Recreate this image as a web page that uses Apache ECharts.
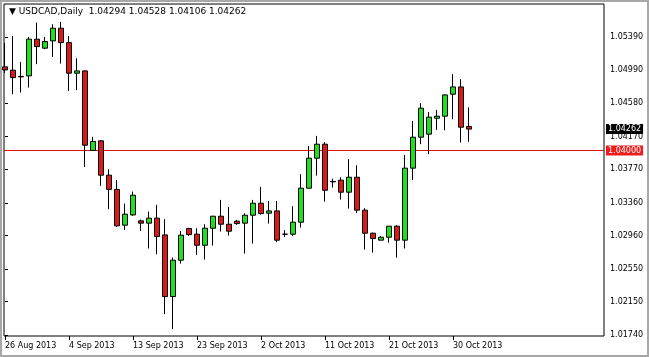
<!DOCTYPE html>
<html><head><meta charset="utf-8">
<script src="https://cdn.jsdelivr.net/npm/echarts@6/dist/echarts.min.js"></script>
<style>html,body{margin:0;padding:0;background:#fff;}#c{width:649px;height:357px;}</style>
</head><body><div id="c"></div>
<script>
const titleText = '\u25BC USDCAD,Daily  1.04294 1.04528 1.04106 1.04262';
const dateLabels = ['26 Aug 2013','4 Sep 2013','13 Sep 2013','23 Sep 2013','2 Oct 2013','11 Oct 2013','21 Oct 2013','30 Oct 2013'];
const dateLabelIdx = [0,8,16,24,32,40,48,56];
const priceTicks = [1.05390,1.04990,1.04580,1.04170,1.03770,1.03360,1.02960,1.02550,1.02150,1.01740];
const opens = [1.05023,1.04983,1.04907,1.04913,1.05362,1.05252,1.05341,1.05496,1.05320,1.04946,
1.04974,1.04001,1.04118,1.03698,1.03524,1.03086,1.03212,1.03139,1.03111,1.03172,
1.02967,1.02213,1.02658,1.03045,1.02976,1.02841,1.03049,1.03196,1.03098,1.03135,
1.03111,1.03208,1.03355,1.03233,1.03261,1.02976,1.02976,1.03123,1.03539,1.03906,
1.04077,1.03622,1.03637,1.03490,1.03673,1.03270,1.02988,1.02903,1.02939,1.03074,
1.02903,1.03784,1.04163,1.04200,1.04395,1.04420,1.04689,1.04778,1.04294];
const closes = [1.04986,1.04892,1.04901,1.05362,1.05271,1.05333,1.05496,1.05320,1.04946,1.04974,
1.04065,1.04111,1.03698,1.03524,1.03078,1.03221,1.03453,1.03111,1.03172,1.02947,
1.02213,1.02658,1.02964,1.02971,1.02841,1.03049,1.03196,1.03098,1.03013,1.03106,
1.03208,1.03355,1.03228,1.03261,1.02903,1.02976,1.03123,1.03539,1.03906,1.04077,
1.03514,1.03616,1.03490,1.03673,1.03270,1.02988,1.02922,1.02939,1.03074,1.02903,
1.03784,1.04163,1.04518,1.04408,1.04420,1.04680,1.04778,1.04285,1.04262];
const highs = [1.05317,1.05402,1.05084,1.05390,1.05565,1.05390,1.05545,1.05574,1.05402,1.05129,
1.04983,1.04167,1.04126,1.03771,1.03637,1.03350,1.03497,1.03155,1.03253,1.03335,
1.03160,1.02690,1.03016,1.03053,1.03049,1.03098,1.03200,1.03396,1.03310,1.03151,
1.03233,1.03396,1.03555,1.03383,1.03383,1.03025,1.03319,1.03710,1.04056,1.04179,
1.04102,1.03656,1.03673,1.03894,1.03820,1.03294,1.02996,1.02952,1.03074,1.03086,
1.03946,1.04362,1.04579,1.04472,1.04497,1.04689,1.04934,1.04872,1.04528];
const lows = [1.04950,1.04689,1.04709,1.04770,1.05056,1.05240,1.05145,1.05063,1.04729,1.04738,
1.03799,1.03995,1.03567,1.03282,1.03065,1.03029,1.03200,1.03016,1.02800,1.02731,
1.01997,1.01814,1.02616,1.02955,1.02723,1.02665,1.02837,1.03008,1.02959,1.03090,
1.02739,1.02861,1.03216,1.03106,1.02878,1.02943,1.02952,1.03057,1.03539,1.03693,
1.03375,1.03546,1.03399,1.03289,1.03233,1.02788,1.02751,1.02903,1.02873,1.02690,
1.02800,1.03637,1.04077,1.03955,1.04252,1.04248,1.04383,1.04097,1.04106];
const levelLine = 1.04000;
const lastPrice = 1.04262;

const FONT = 'DejaVu Sans';
const X_MIN = -0.125, X_MAX = 74.875;
const Y_MIN = 1.017303, Y_MAX = 1.057925;
const candleData = opens.map((o, i) => [i, o, closes[i], lows[i], highs[i]]);
const boxStyle = bg => ({backgroundColor: bg, color: '#fff', fontFamily: FONT, fontSize: 8, lineHeight: 8, padding: [1, 2, 1, 2]});

const chart = echarts.init(document.getElementById('c'), null, {renderer: 'canvas'});
chart.setOption({
  animation: false,
  backgroundColor: '#ffffff',
  title: {
    text: titleText, left: 9, top: 7, padding: 0,
    textStyle: {fontFamily: FONT, fontSize: 9, fontWeight: 'normal', color: '#000'}
  },
  grid: {left: 4, right: 45, top: 4, bottom: 21, show: true, borderColor: '#000', borderWidth: 1, backgroundColor: '#fff'},
  xAxis: {
    type: 'value', min: X_MIN, max: X_MAX,
    splitLine: {show: false}, axisLine: {show: false},
    axisTick: {show: true, length: 4, lineStyle: {color: '#000'}, customValues: dateLabelIdx},
    axisLabel: {
      show: true, customValues: dateLabelIdx, align: 'left', margin: 6,
      fontFamily: FONT, fontSize: 8, color: '#000',
      formatter: v => dateLabels[dateLabelIdx.indexOf(Math.round(v))] || ''
    }
  },
  yAxis: [{
    type: 'value', position: 'right', min: Y_MIN, max: Y_MAX, scale: true,
    splitLine: {show: false}, axisLine: {show: false},
    axisTick: {show: true, length: 3, lineStyle: {color: '#000'}, customValues: priceTicks},
    axisLabel: {
      show: true, customValues: priceTicks, margin: 6,
      fontFamily: FONT, fontSize: 8, color: '#000',
      formatter: v => v.toFixed(5)
    }
  }, {
    type: 'value', position: 'right', min: Y_MIN, max: Y_MAX, scale: true, z: 5,
    splitLine: {show: false}, axisLine: {show: false}, axisTick: {show: false},
    axisLabel: {
      show: true, customValues: [levelLine, lastPrice], margin: 2,
      formatter: v => (Math.abs(v - levelLine) < 1e-7 ? '{r|' : '{b|') + v.toFixed(5) + '}',
      rich: {r: boxStyle('#ee1c1c'), b: boxStyle('#000000')}
    }
  }],
  series: [{
    type: 'line', name: 'levelLine', silent: true, z: 1,
    data: [[X_MIN, levelLine], [X_MAX, levelLine]],
    symbol: 'none', showSymbol: false,
    lineStyle: {color: '#e00c0c', width: 1, type: 'solid'},
    itemStyle: {color: '#e00c0c'}
  }, {
    type: 'candlestick',
    data: candleData,
    barWidth: 5,
    clip: true,
    z: 2,
    itemStyle: {
      color: '#1fe01f', color0: '#d81a1a',
      borderColor: '#000', borderColor0: '#000', borderColorDoji: '#000', borderWidth: 1
    }
  }],
  graphic: [{
    type: 'rect', silent: true, z: 100,
    shape: {x: 1, y: 1, width: 647, height: 355},
    style: {fill: 'none', stroke: '#a8a8a8', lineWidth: 2}
  }]
});
</script></body></html>
